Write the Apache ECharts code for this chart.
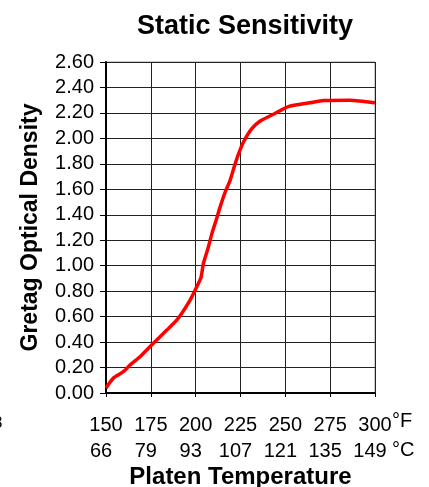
<!DOCTYPE html>
<html><head><meta charset="utf-8">
<script src="https://cdn.jsdelivr.net/npm/echarts@6/dist/echarts.min.js"></script>
<style>html,body{margin:0;padding:0;background:#fff}#c{width:429px;height:487px}</style>
</head><body><div id="c"></div>
<script>
var tempF = [150,154,159.7,163.4,169,176.4,183.9,189.8,196.9,200.6,203,204.3,207.1,209,211.4,213.6,216.5,219.2,222,224.5,227,231.3,236,243.4,251.7,263.8,271.3,286.2,300];
var density = [0.04,0.115,0.167,0.22,0.285,0.39,0.494,0.578,0.73,0.834,0.91,1.017,1.147,1.25,1.357,1.46,1.58,1.67,1.80,1.90,1.98,2.076,2.136,2.19,2.25,2.28,2.298,2.30,2.28];
var ticksF = [150,175,200,225,250,275,300];
var ticksC = ['66','79','93','107','121','135','149'];
var FONT = 'Liberation Sans, Arial, sans-serif';

var chart = echarts.init(document.getElementById('c'));
chart.setOption({
  animation:false,
  backgroundColor:'#fff',
  title:{text:'Static Sensitivity',left:240,top:8,textAlign:'center',
    textStyle:{fontFamily:FONT,fontWeight:'bold',fontSize:27,color:'#000'}},
  grid:{left:106,right:54,top:62,bottom:94,show:true,borderColor:'#999',borderWidth:1,
    containLabel:false,outerBoundsMode:'none'},
  xAxis:[{type:'value',min:150,max:300,interval:25,
    axisLine:{show:true,lineStyle:{color:'#000',width:2}},
    axisTick:{show:true,length:4,lineStyle:{color:'#000'}},
    splitLine:{show:true,lineStyle:{color:'#222',width:1}},
    axisLabel:{margin:22,fontFamily:FONT,fontSize:20,color:'#000',
      formatter:function(v){return String(v);}},
    name:'Platen Temperature',nameLocation:'middle',nameGap:72,
    nameTextStyle:{fontFamily:FONT,fontWeight:'bold',fontSize:24,color:'#000'}},
   {type:'value',min:150,max:300,interval:25,position:'bottom',offset:26,
    axisLine:{show:false},axisTick:{show:false},splitLine:{show:false},
    axisLabel:{margin:22,fontFamily:FONT,fontSize:20,color:'#000',padding:[0,10,0,0],
      formatter:function(v){return ticksC[ticksF.indexOf(v)];}}}],
  yAxis:{type:'value',min:0,max:2.6,interval:0.2,
    axisLine:{show:true,lineStyle:{color:'#000',width:2}},
    axisTick:{show:true,length:6,lineStyle:{color:'#000'}},
    splitLine:{show:true,lineStyle:{color:'#222',width:1}},
    axisLabel:{margin:12,fontFamily:FONT,fontSize:20,color:'#000',formatter:function(v){return v.toFixed(2);}},
    name:'Gretag Optical Density',nameLocation:'middle',nameGap:64,
    nameTextStyle:{fontFamily:FONT,fontWeight:'bold',fontSize:23,color:'#000'}},
  graphic:[
    {type:'text',left:392,top:411,style:{text:'°F',fontFamily:FONT,fontSize:20,fill:'#000'}},
    {type:'text',left:392,top:440,style:{text:'°C',fontFamily:FONT,fontSize:20,fill:'#000'}},
    {type:'text',left:-7,top:415,style:{text:'3',fontFamily:FONT,fontSize:17,fill:'#000'}}
  ],
  series:[{type:'line',xAxisIndex:0,data:tempF.map(function(x,i){return [x,density[i]];}),
    showSymbol:false,smooth:0.2,lineStyle:{color:'#ff0000',width:3.5}}]
});
</script></body></html>
